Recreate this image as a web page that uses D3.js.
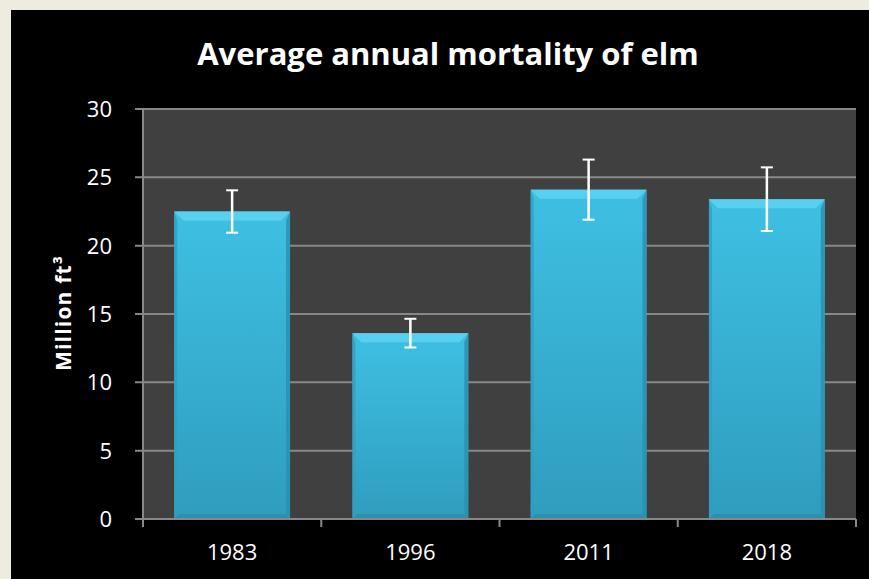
<!DOCTYPE html>
<html><head><meta charset="utf-8">
<script src="https://cdn.jsdelivr.net/npm/d3@7"></script>
<style>html,body{margin:0;padding:0;background:#eeebe0;}svg{display:block;}</style>
</head><body>
<svg id="c" width="869" height="579"></svg>
<script>
const categories = ["1983", "1996", "2011", "2018"];
const values = [22.5, 13.6, 24.1, 23.4];
const errors = [1.55, 1.05, 2.2, 2.33];
const yTicks = [0, 5, 10, 15, 20, 25, 30];
const title = "Average annual mortality of elm";
const yLabel = "Million ft³";

const svg = d3.select("#c");
svg.append("rect").attr("x", 11).attr("y", 10).attr("width", 858).attr("height", 569).attr("fill", "#000");

const m = {left: 143, right: 856, top: 109, bottom: 519};
const x = d3.scaleBand().domain(categories).range([m.left, m.right]).paddingInner(0.35).paddingOuter(0.175);
const y = d3.scaleLinear().domain([0, 30]).range([m.bottom, m.top]);

svg.append("rect").attr("x", m.left).attr("y", m.top).attr("width", m.right - m.left).attr("height", m.bottom - m.top).attr("fill", "#404040");

// gridlines
svg.append("g").selectAll("line").data(yTicks).join("line")
  .attr("x1", m.left - 8).attr("x2", m.right).attr("y1", d => y(d)).attr("y2", d => y(d))
  .attr("stroke", "#888").attr("stroke-width", 2);

const defs = svg.append("defs");
const g = defs.append("linearGradient").attr("id", "bg").attr("x1", 0).attr("x2", 0).attr("y1", 0).attr("y2", 1);
g.append("stop").attr("offset", "0%").attr("stop-color", "#3ec0e3");
g.append("stop").attr("offset", "100%").attr("stop-color", "#2f9dbe");

const bars = svg.append("g").selectAll("g").data(categories).join("g");
bars.append("rect").attr("x", d => x(d)).attr("y", (d, i) => y(values[i]))
  .attr("width", x.bandwidth()).attr("height", (d, i) => y(0) - y(values[i]))
  .attr("fill", "url(#bg)");
// bevels
const bv = 9;
bars.append("polygon").attr("points", (d, i) => {
  const x0 = x(d), x1 = x(d) + x.bandwidth(), t = y(values[i]);
  return `${x0},${t} ${x1},${t} ${x1 - bv},${t + bv} ${x0 + bv},${t + bv}`;
}).attr("fill", "#58d0ef");
bars.append("polygon").attr("points", (d, i) => {
  const x1 = x(d) + x.bandwidth(), t = y(values[i]), b = y(0);
  return `${x1},${t} ${x1 - 4},${t + bv} ${x1 - 4},${b - 4} ${x1},${b}`;
}).attr("fill", "#2a8fae").attr("opacity", 0.8);
bars.append("polygon").attr("points", (d, i) => {
  const x0 = x(d), t = y(values[i]), b = y(0);
  return `${x0},${t} ${x0 + 3},${t + bv} ${x0 + 3},${b - 3} ${x0},${b}`;
}).attr("fill", "#2f9fc2").attr("opacity", 0.8);
bars.append("polygon").attr("points", (d, i) => {
  const x0 = x(d), x1 = x(d) + x.bandwidth(), b = y(0);
  return `${x0},${b} ${x0 + 5},${b - 5} ${x1 - 5},${b - 5} ${x1},${b}`;
}).attr("fill", "#2b90ae");

// error bars
const eb = svg.append("g").attr("stroke", "#fff").attr("stroke-width", 2.5);
categories.forEach((c, i) => {
  const cx = x(c) + x.bandwidth() / 2;
  eb.append("line").attr("x1", cx).attr("x2", cx).attr("y1", y(values[i] + errors[i])).attr("y2", y(values[i] - errors[i]));
  eb.append("line").attr("x1", cx - 6).attr("x2", cx + 6).attr("y1", y(values[i] + errors[i])).attr("y2", y(values[i] + errors[i])).attr("stroke-width", 2);
  eb.append("line").attr("x1", cx - 6).attr("x2", cx + 6).attr("y1", y(values[i] - errors[i])).attr("y2", y(values[i] - errors[i])).attr("stroke-width", 2);
});

// axes lines
svg.append("line").attr("x1", m.left).attr("x2", m.left).attr("y1", m.top).attr("y2", m.bottom).attr("stroke", "#888").attr("stroke-width", 2);
svg.append("line").attr("x1", m.left - 8).attr("x2", m.right).attr("y1", m.bottom).attr("y2", m.bottom).attr("stroke", "#888").attr("stroke-width", 2);
const step = (m.right - m.left) / categories.length;
svg.append("g").selectAll("line").data(d3.range(categories.length + 1)).join("line")
  .attr("x1", d => m.left + d * step).attr("x2", d => m.left + d * step)
  .attr("y1", m.bottom).attr("y2", m.bottom + 8).attr("stroke", "#888").attr("stroke-width", 2);

const font = "'Open Sans', 'Noto Sans', sans-serif";
svg.append("g").selectAll("text").data(yTicks).join("text")
  .attr("x", 112).attr("y", d => y(d)).attr("dy", "0.36em").attr("text-anchor", "end")
  .attr("fill", "#fff").attr("font-family", font).attr("font-size", 22).text(d => d);
svg.append("g").selectAll("text").data(categories).join("text")
  .attr("x", d => x(d) + x.bandwidth() / 2).attr("y", 560).attr("text-anchor", "middle")
  .attr("fill", "#fff").attr("font-family", font).attr("font-size", 22).text(d => d);

svg.append("text").attr("x", 448).attr("y", 65).attr("text-anchor", "middle")
  .attr("fill", "#fff").attr("font-family", font).attr("font-weight", "bold").attr("font-size", 31).text(title);
svg.append("text").attr("transform", "translate(71,313) rotate(-90)").attr("text-anchor", "middle")
  .attr("fill", "#fff").attr("font-family", font).attr("font-weight", "bold").attr("font-size", 21)
  .attr("letter-spacing", 1.2).text(yLabel);
</script>
</body></html>
